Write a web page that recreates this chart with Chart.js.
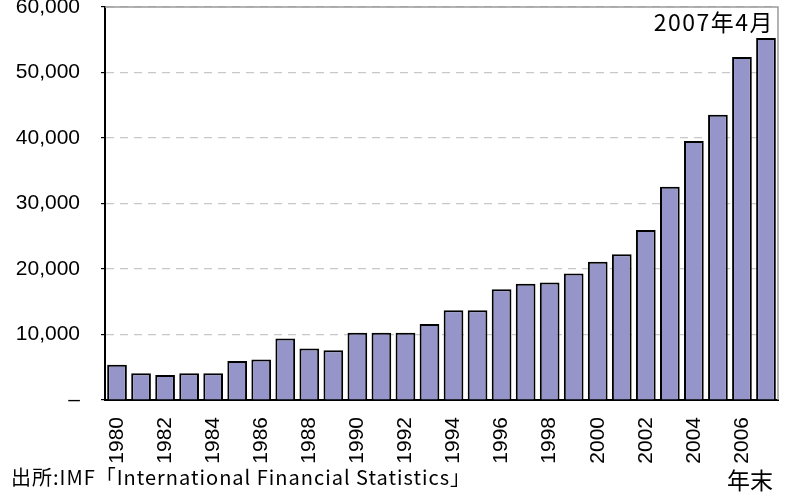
<!DOCTYPE html>
<html><head><meta charset="utf-8">
<script src="https://cdn.jsdelivr.net/npm/chart.js@4"></script>
<style>
html,body{margin:0;padding:0;background:#fff;}
#wrap{position:relative;width:787px;height:493px;overflow:hidden;}
canvas{position:absolute;left:0;top:0;}
.t{position:absolute;font-family:"Noto Sans CJK JP";color:#000;white-space:nowrap;line-height:1;}
</style></head><body>
<div id="wrap"><canvas id="c" width="787" height="493"></canvas>
<div class="t" style="right:13px;top:10px;font-size:23px;letter-spacing:1.5px;">2007年4月</div>
<div class="t" style="left:11px;top:467px;font-size:20px;letter-spacing:1px;">出所:IMF「International Financial Statistics」</div>
<div class="t" style="left:727px;top:468px;font-size:23px;">年末</div>
</div>
<script>
const years = ["1980","1981","1982","1983","1984","1985","1986","1987","1988","1989",
  "1990","1991","1992","1993","1994","1995","1996","1997","1998","1999",
  "2000","2001","2002","2003","2004","2005","2006","2007"];
const reserves = [5400,4100,3800,4100,4100,5950,6200,9400,7850,7600,
  10250,10250,10250,11600,13700,13700,16900,17750,17950,19300,
  21100,22250,25950,32550,39550,43550,52350,55250];
const yTicks = [0,10000,20000,30000,40000,50000,60000];

const frame = {
  id:'frame',
  afterDraw(chart){
    const a = chart.chartArea, ctx = chart.ctx;
    ctx.save();
    ctx.strokeStyle = '#9a9a9a'; ctx.lineWidth = 1.5;
    ctx.beginPath();
    ctx.moveTo(a.left, a.top); ctx.lineTo(a.right, a.top); ctx.lineTo(a.right, a.bottom);
    ctx.stroke();
    ctx.restore();
  }
};

new Chart(document.getElementById('c'), {
  type:'bar',
  data:{labels:years, datasets:[{data:reserves, backgroundColor:'#9595c9', borderColor:'#000', borderWidth:2, barPercentage:0.82, categoryPercentage:1}]},
  options:{
    responsive:false, animation:false, devicePixelRatio:1,
    layout:{padding:{top:7,right:9,left:0,bottom:0}},
    plugins:{legend:{display:false}, tooltip:{enabled:false}, title:{display:false}},
    scales:{
      x:{
        afterFit(s){ s.height = 93; s.paddingLeft = 0; s.paddingRight = 0; },
        grid:{display:false},
        border:{display:true, color:'#000', width:2},
        ticks:{autoSkip:false, maxRotation:90, minRotation:90, padding:9, color:'#000',
          font:{family:'"Liberation Sans", Arial', size:21},
          callback(v, i){ return i % 2 === 0 ? years[i] : ''; }}
      },
      y:{
        min:0, max:60000,
        afterFit(s){ s.width = 105; s.paddingTop = 0; s.paddingBottom = 0; },
        afterBuildTicks(s){ s.ticks = yTicks.map(v => ({value:v})); },
        grid:{color:'#c8c8c8', lineWidth:1.2, tickLength:4, tickColor:'#000', drawTicks:true},
        border:{display:true, color:'#000', width:2, dash:[8,6]},
        ticks:{padding:21, color:'#000', font:{family:'"Liberation Sans", Arial', size:21},
          callback(v){ return v === 0 ? '–' : v.toLocaleString('en-US'); }}
      }
    }
  },
  plugins:[frame]
});
</script>
</body></html>
